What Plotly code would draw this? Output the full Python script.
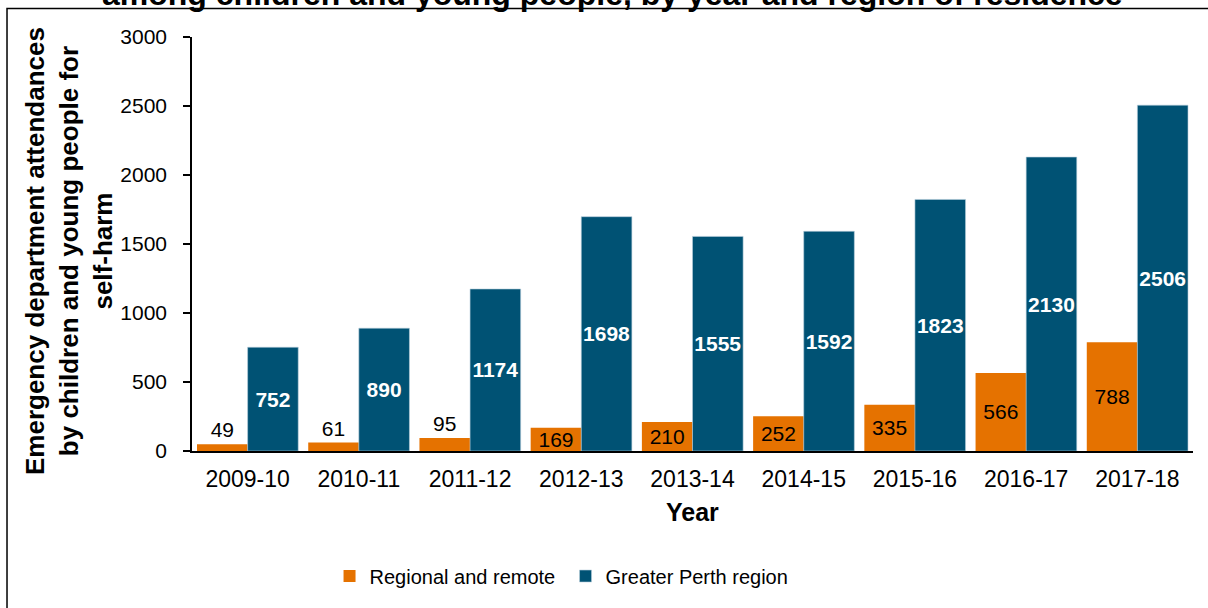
import plotly.graph_objects as go

# Emergency department attendances for self-harm, children and young people
years = ["2009-10", "2010-11", "2011-12", "2012-13", "2013-14",
         "2014-15", "2015-16", "2016-17", "2017-18"]
regional_remote = [49, 61, 95, 169, 210, 252, 335, 566, 788]
greater_perth = [752, 890, 1174, 1698, 1555, 1592, 1823, 2130, 2506]
y_ticks = [0, 500, 1000, 1500, 2000, 2500, 3000]

ORANGE = "#E57200"
BLUE = "#005274"
FONT = "Liberation Sans, Arial, sans-serif"

# small bars carry their label above the bar, the rest inside
orange_pos = ["outside" if v < 120 else "inside" for v in regional_remote]

fig = go.Figure()
fig.add_trace(go.Bar(
    name="Regional and remote", x=years, y=regional_remote,
    marker=dict(color=ORANGE, line=dict(width=0)),
    text=regional_remote, texttemplate="%{y}",
    textposition=orange_pos, insidetextanchor="middle",
    textangle=0, constraintext="none", cliponaxis=False,
    textfont=dict(family=FONT, size=21, color="#000000"),
))
fig.add_trace(go.Bar(
    name="Greater Perth region", x=years, y=greater_perth,
    marker=dict(color=BLUE, line=dict(width=0.6, color="#b9cfdc")),
    text=greater_perth, texttemplate="<b>%{y}</b>",
    textposition="inside", insidetextanchor="middle",
    textangle=0, constraintext="none",
    textfont=dict(family=FONT, size=21, color="#ffffff"),
))

fig.update_layout(
    width=1208, height=608,
    margin=dict(l=192, r=15, t=37, b=157),
    paper_bgcolor="#ffffff", plot_bgcolor="#ffffff",
    barmode="group", bargap=0.09, bargroupgap=0,
    font=dict(family=FONT, color="#000000"),
    showlegend=True,
    legend=dict(
        orientation="h", x=0.1374, xanchor="left", y=-0.302, yanchor="middle",
        font=dict(family=FONT, size=20, color="#000000"),
        itemclick=False, traceorder="normal",
        entrywidth=191, entrywidthmode="pixels",
    ),
    xaxis=dict(
        type="category", showgrid=False, zeroline=False,
        showline=True, linecolor="#000000", linewidth=2,
        ticks="", tickfont=dict(family=FONT, size=23, color="#000000"),
        ticklabelstandoff=6,
    ),
    yaxis=dict(
        range=[0, 3000], tickvals=y_ticks, showgrid=False, zeroline=False,
        showline=True, linecolor="#000000", linewidth=1.5,
        ticks="outside", ticklen=7, tickcolor="#000000", tickwidth=1.5,
        tickfont=dict(family=FONT, size=21, color="#000000"),
        ticklabelstandoff=12,
    ),
)

# outer frame of the chart
fig.add_shape(type="rect", xref="paper", yref="paper",
              x0=-0.1848, x1=1.2, y0=-0.7, y1=1.0688,
              line=dict(color="#000000", width=1.5), fillcolor="rgba(0,0,0,0)",
              layer="below")

# chart title
fig.add_annotation(
    text="<b>among children and young people, by year and region of residence</b>",
    xref="paper", yref="paper", x=0.42, y=1.0556,
    xanchor="center", yanchor="bottom", showarrow=False,
    font=dict(family=FONT, size=32, color="#000000"),
)

# axis titles
fig.add_annotation(
    text="<b>Emergency department attendances<br>by children and young people for<br>self-harm</b>",
    xref="paper", yref="paper", x=-0.1229, y=0.483,
    xanchor="center", yanchor="middle", textangle=-90, showarrow=False,
    align="center", font=dict(family=FONT, size=26, color="#000000"),
)
fig.add_annotation(
    text="<b>Year</b>",
    xref="paper", yref="paper", x=0.5, y=-0.147,
    xanchor="center", yanchor="middle", showarrow=False,
    font=dict(family=FONT, size=25, color="#000000"),
)

fig.write_html("out.html")
